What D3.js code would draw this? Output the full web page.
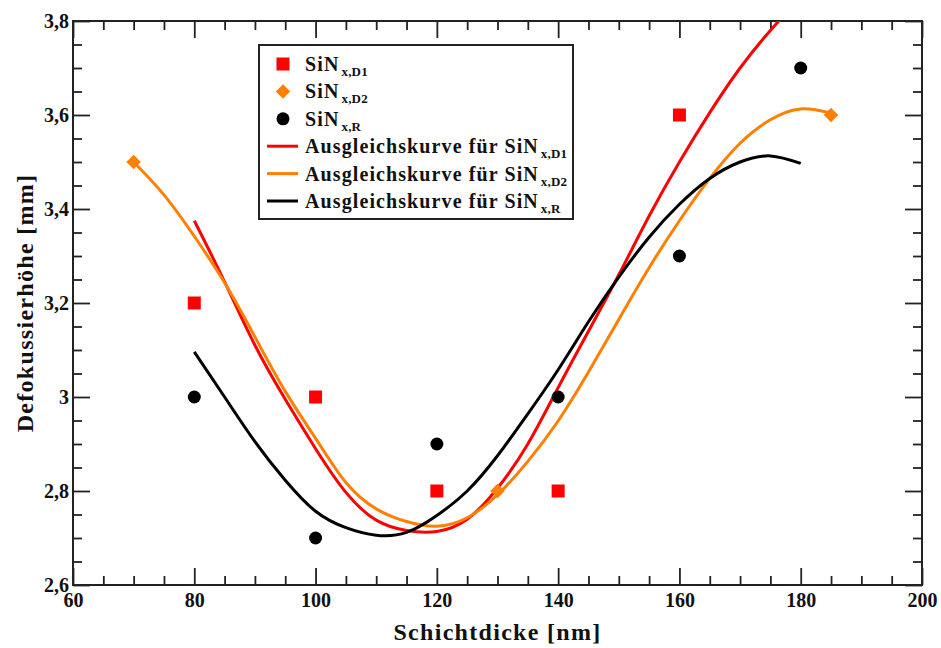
<!DOCTYPE html>
<html lang="de">
<head>
<meta charset="utf-8">
<title>Defokussierhöhe</title>
<script src="https://d3js.org/d3.v7.min.js"></script>
<style>
body { margin: 0; background: #fff; }
svg { display: block; }
svg text { font-family: "Liberation Serif", "Times New Roman", Times, "DejaVu Serif", serif; font-weight: bold; }
</style>
</head>
<body>
<div id="app"></div>
<script>
// Messpunkte
const d1X = [80, 100, 120, 140, 160];
const d1Y = [3.2, 3.0, 2.8, 2.8, 3.6];
const d2X = [70, 130, 185];
const d2Y = [3.5, 2.8, 3.6];
const rX = [80, 100, 120, 140, 160, 180];
const rY = [3.0, 2.7, 2.9, 3.0, 3.3, 3.7];

// Ausgleichskurven
const fitD1X = [80, 85, 90, 95, 100, 105, 110, 115, 120, 125, 130, 135, 140, 145, 150, 155, 160, 165, 170, 175, 180];
const fitD1Y = [3.375, 3.245, 3.11, 2.995, 2.89, 2.797, 2.738, 2.716, 2.714, 2.74, 2.806, 2.90, 3.02, 3.14, 3.26, 3.385, 3.50, 3.605, 3.70, 3.78, 3.85];
const fitD2X = [70, 75, 80, 85, 90, 95, 100, 105, 110, 115, 120, 125, 130, 135, 140, 145, 150, 155, 160, 165, 170, 175, 180, 185];
const fitD2Y = [3.50, 3.43, 3.342, 3.243, 3.128, 3.012, 2.912, 2.818, 2.762, 2.735, 2.725, 2.743, 2.792, 2.863, 2.949, 3.053, 3.165, 3.275, 3.375, 3.465, 3.54, 3.59, 3.613, 3.604];
const fitRX = [80, 85, 90, 95, 100, 105, 110, 115, 120, 125, 130, 135, 140, 145, 150, 155, 160, 165, 170, 175, 180];
const fitRY = [3.096, 3.0, 2.905, 2.823, 2.757, 2.722, 2.706, 2.712, 2.748, 2.80, 2.875, 2.964, 3.058, 3.16, 3.255, 3.34, 3.41, 3.465, 3.50, 3.513, 3.497];

const xTicks = [60, 80, 100, 120, 140, 160, 180, 200];
const xTickLabels = ["60", "80", "100", "120", "140", "160", "180", "200"];
const yTicks = [2.6, 2.8, 3.0, 3.2, 3.4, 3.6, 3.8];
const yTickLabels = ["2,6", "2,8", "3", "3,2", "3,4", "3,6", "3,8"];

const legendLabels = ["SiN", "SiN", "SiN", "Ausgleichskurve für SiN", "Ausgleichskurve für SiN", "Ausgleichskurve für SiN"];
const legendSubs = ["x,D1", "x,D2", "x,R", "x,D1", "x,D2", "x,R"];

const red = "#ff0000", orange = "#ff8000", black = "#000000";

var width = 941,
    height = 648;
var margin = {top: 21, right: 19, bottom: 63, left: 73};

const x = d3.scaleLinear()
    .domain([60, 200])
    .range([margin.left, width - margin.right]);

const y = d3.scaleLinear()
    .domain([2.6, 3.8])
    .range([height - margin.bottom, margin.top]);

const xMinor = d3.range(60, 201, 5).filter(d => d % 20 !== 0);
const yMinor = d3.range(0, 25).map(i => 2.6 + i * 0.05).filter((d, i) => i % 4 !== 0);

const svg = d3.select("#app").append("svg")
    .attr("width", width)
    .attr("height", height)
    .attr("viewBox", [0, 0, width, height]);

svg.append("defs").append("clipPath")
    .attr("id", "plot-clip")
  .append("rect")
    .attr("x", margin.left)
    .attr("y", margin.top)
    .attr("width", width - margin.left - margin.right)
    .attr("height", height - margin.top - margin.bottom);

// Achsen mit Ticks nach innen
function styleAxis(g) {
  g.attr("font-family", null);
  g.select(".domain").remove();
  g.selectAll(".tick line").attr("stroke", "#222").attr("stroke-width", 1.8);
  g.selectAll(".tick text")
      .attr("fill", "#111")
      .attr("font-size", 20);
}

const axes = [
  [d3.axisBottom(x).tickValues(xTicks).tickSize(-17).tickPadding(8).tickFormat((d, i) => xTickLabels[i]), height - margin.bottom, 0],
  [d3.axisBottom(x).tickValues(xMinor).tickSize(-9).tickFormat(""), height - margin.bottom, 0],
  [d3.axisTop(x).tickValues(xTicks).tickSize(-17).tickFormat(""), margin.top, 0],
  [d3.axisTop(x).tickValues(xMinor).tickSize(-9).tickFormat(""), margin.top, 0],
  [d3.axisLeft(y).tickValues(yTicks).tickSize(-17).tickPadding(4).tickFormat((d, i) => yTickLabels[i]), 0, margin.left],
  [d3.axisLeft(y).tickValues(yMinor).tickSize(-9).tickFormat(""), 0, margin.left],
  [d3.axisRight(y).tickValues(yTicks).tickSize(-17).tickFormat(""), 0, width - margin.right],
  [d3.axisRight(y).tickValues(yMinor).tickSize(-9).tickFormat(""), 0, width - margin.right]
];

axes.forEach(([axis, ty, tx]) => {
  svg.append("g")
      .attr("transform", `translate(${tx},${ty})`)
      .call(axis)
      .call(styleAxis);
});

svg.append("rect")
    .attr("x", margin.left)
    .attr("y", margin.top)
    .attr("width", width - margin.left - margin.right)
    .attr("height", height - margin.top - margin.bottom)
    .attr("fill", "none")
    .attr("stroke", "#222")
    .attr("stroke-width", 2);

// Kurven
const line = d3.line()
    .x(d => x(d[0]))
    .y(d => y(d[1]))
    .curve(d3.curveNatural);

const fits = [
  [fitD1X, fitD1Y, red],
  [fitD2X, fitD2Y, orange],
  [fitRX, fitRY, black]
];

svg.append("g")
    .attr("clip-path", "url(#plot-clip)")
  .selectAll("path")
  .data(fits)
  .join("path")
    .attr("d", ([xs, ys]) => line(xs.map((v, i) => [v, ys[i]])))
    .attr("fill", "none")
    .attr("stroke", d => d[2])
    .attr("stroke-width", 3);

// Punkte
const square = d3.symbol(d3.symbolSquare, 169);
const diamond = d3.symbol(d3.symbolSquare, 105);

const pts = svg.append("g");

pts.selectAll(".d2")
  .data(d2X.map((v, i) => [v, d2Y[i]]))
  .join("path")
    .attr("transform", d => `translate(${x(d[0])},${y(d[1])}) rotate(45)`)
    .attr("d", diamond)
    .attr("fill", orange);

pts.selectAll(".d1")
  .data(d1X.map((v, i) => [v, d1Y[i]]))
  .join("path")
    .attr("transform", d => `translate(${x(d[0])},${y(d[1])})`)
    .attr("d", square)
    .attr("fill", red);

pts.selectAll("circle")
  .data(rX.map((v, i) => [v, rY[i]]))
  .join("circle")
    .attr("cx", d => x(d[0]))
    .attr("cy", d => y(d[1]))
    .attr("r", 6.5)
    .attr("fill", black);

// Legende
const legend = svg.append("g");

legend.append("rect")
    .attr("x", 259)
    .attr("y", 45)
    .attr("width", 314)
    .attr("height", 174)
    .attr("fill", "#fff")
    .attr("stroke", "#222")
    .attr("stroke-width", 2);

const rows = legend.selectAll(".row")
  .data(legendLabels)
  .join("g")
    .attr("transform", (d, i) => `translate(283,${64 + i * 27.4})`);

rows.each(function(d, i) {
  const g = d3.select(this);
  if (i === 0) g.append("path").attr("d", square).attr("fill", red);
  if (i === 1) g.append("path").attr("d", diamond).attr("transform", "rotate(45)").attr("fill", orange);
  if (i === 2) g.append("circle").attr("r", 6.5).attr("fill", black);
  if (i >= 3) g.append("line")
      .attr("x1", -16).attr("x2", 15)
      .attr("stroke", [red, orange, black][i - 3])
      .attr("stroke-width", 3);
});

const labels = rows.append("text")
    .attr("x", 22)
    .attr("y", 7)
    .attr("font-size", 20)
    .attr("letter-spacing", 1.1)
    .attr("fill", "#111");

labels.append("tspan").text(d => d);
labels.append("tspan")
    .attr("dx", 2)
    .attr("dy", 5)
    .attr("font-size", 13)
    .attr("letter-spacing", 0.2)
    .text((d, i) => legendSubs[i]);

// Achsentitel
svg.append("text")
    .attr("x", (margin.left + width - margin.right) / 2)
    .attr("y", 640)
    .attr("text-anchor", "middle")
    .attr("font-size", 24)
    .attr("letter-spacing", 1.3)
    .attr("fill", "#111")
    .text("Schichtdicke [nm]");

svg.append("text")
    .attr("transform", `translate(33,${(margin.top + height - margin.bottom) / 2}) rotate(-90)`)
    .attr("text-anchor", "middle")
    .attr("font-size", 24)
    .attr("letter-spacing", 1.3)
    .attr("fill", "#111")
    .text("Defokussierhöhe [mm]");
</script>
</body>
</html>
